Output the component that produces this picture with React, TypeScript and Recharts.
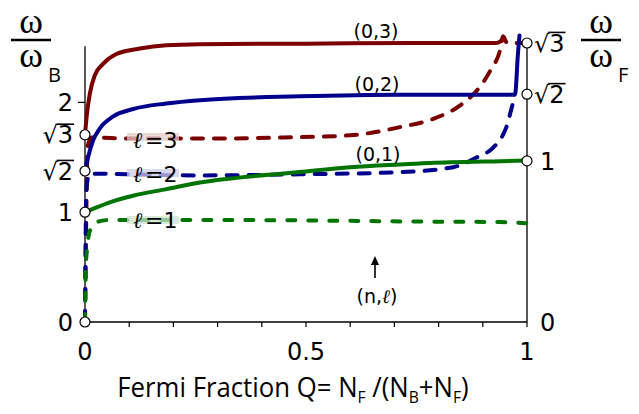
import React from 'react';
import { LineChart, Line, XAxis, YAxis, ReferenceDot, ReferenceLine } from 'recharts';

const W = 639;
const H = 414;
const RED = '#7a0000';
const BLUE = '#00008c';
const GREEN = '#007400';
const F_SCALE = 1.467; // omega_F measured in omega_B
const Y_MAX = 2.65;

const xTicks = [0, 0.1, 0.2, 0.3, 0.4, 0.5, 0.6, 0.7, 0.8, 0.9, 1];
const xTickLabels = ['0', '', '', '', '', '0.5', '', '', '', '', '1'];

const leftTicks = [0, 1, 1.375, 1.705, 2];
const leftTickLabels = ['0', '1', '√2', '√3', '2'];
const leftCircles = [0, 1, 1.375, 1.705];

const rightTicks = [0, 1, Math.SQRT2, Math.sqrt(3)];
const rightTickLabels = ['0', '1', '√2', '√3'];
const rightCircles = [1, Math.SQRT2, Math.sqrt(3)];

// (0,3) solid
const q03 = [0, 0.0045, 0.011, 0.022, 0.041, 0.071, 0.124, 0.184, 0.26, 0.5, 0.75, 0.93, 0.94, 0.946];
const w03 = [1.705, 1.9, 2.08, 2.245, 2.35, 2.44, 2.49, 2.52, 2.53, 2.535, 2.54, 2.54, 2.555, 2.6];
// l=3 dashed
const qL3 = [0, 0.003, 0.006, 0.015, 0.1, 0.26, 0.45, 0.6, 0.713, 0.788, 0.848, 0.887, 0.917, 0.94, 0.946, 0.955, 1];
const wL3 = [0, 1.0, 1.6, 1.68, 1.67, 1.67, 1.68, 1.7, 1.775, 1.85, 1.97, 2.11, 2.29, 2.49, 2.6, 2.54, 2.54];
// (0,2) solid
const q02 = [0, 0.007, 0.018, 0.033, 0.063, 0.109, 0.184, 0.26, 0.486, 0.713, 0.973, 0.976, 0.978, 0.983];
const w02 = [1.375, 1.5, 1.65, 1.76, 1.87, 1.94, 1.99, 2.02, 2.055, 2.07, 2.07, 2.2, 2.35, 2.61];
// l=2 dashed
const qL2 = [0, 0.003, 0.01, 0.26, 0.486, 0.713, 0.833, 0.887, 0.924, 0.947, 0.956, 0.964, 0.97, 0.974];
const wL2 = [0, 1.2, 1.35, 1.335, 1.345, 1.365, 1.41, 1.5, 1.59, 1.715, 1.806, 1.93, 2.02, 2.07];
// (0,1) solid
const q01 = [0, 0.018, 0.056, 0.109, 0.184, 0.26, 0.486, 0.6, 0.713, 0.826, 0.94, 1];
const w01 = [1.0, 1.03, 1.09, 1.15, 1.21, 1.27, 1.365, 1.41, 1.435, 1.455, 1.465, 1.47];
// l=1 dashed
const qL1 = [0, 0.002, 0.005, 0.011, 0.025, 0.06, 0.26, 0.5, 0.75, 0.94, 1];
const wL1 = [0, 0.5, 0.68, 0.83, 0.91, 0.93, 0.93, 0.925, 0.915, 0.91, 0.9];

const toRows = (qs: number[], ws: number[]) => qs.map((q, i) => ({ q, w: ws[i] }));

const series = [
  { key: 'l3', data: toRows(qL3, wL3), color: RED, dash: '11 11' },
  { key: 'l2', data: toRows(qL2, wL2), color: BLUE, dash: '11 11' },
  { key: 'l1', data: toRows(qL1, wL1), color: GREEN, dash: '8 13' },
  { key: '03', data: toRows(q03, w03), color: RED, dash: undefined },
  { key: '02', data: toRows(q02, w02), color: BLUE, dash: undefined },
  { key: '01', data: toRows(q01, w01), color: GREEN, dash: undefined },
];

const NUM_FONT = '"DejaVu Sans", sans-serif';

function TickText({ x, y, label, anchor }: { x: number; y: number; label: string; anchor: 'start' | 'end' }) {
  const fs = 24;
  const base = y + fs * 0.36;
  if (!label.startsWith('√')) {
    return (
      <text x={x} y={base} textAnchor={anchor} fontSize={fs} fontFamily={NUM_FONT} fill="#000">{label}</text>
    );
  }
  const dw = fs * 0.636;
  const x0 = anchor === 'end' ? x - dw : x + fs * 0.636;
  return (
    <g>
      <text x={x} y={base} textAnchor={anchor} fontSize={fs} fontFamily={NUM_FONT} fill="#000">{label}</text>
      <line x1={x0 - 1} x2={x0 + dw + 1} y1={base - fs * 0.8} y2={base - fs * 0.8} stroke="#000" strokeWidth={1.6} />
    </g>
  );
}

function LeftTick(props: any) {
  const { x, y, payload } = props;
  const label = leftTickLabels[leftTicks.indexOf(payload.value)];
  return (
    <g>
      {payload.value === 2 && <line x1={x - 7} x2={x} y1={y} y2={y} stroke="#000" strokeWidth={1.2} />}
      <TickText x={x - 12} y={y} label={label} anchor="end" />
    </g>
  );
}

function RightTick(props: any) {
  const { x, y, payload } = props;
  const label = rightTickLabels[rightTicks.indexOf(payload.value)];
  return <TickText x={x + (label.startsWith('√') ? 7 : 13)} y={y} label={label} anchor="start" />;
}

function XTick(props: any) {
  const { x, y, payload } = props;
  const label = xTickLabels[xTicks.indexOf(payload.value)];
  if (!label) return null;
  return (
    <text x={x} y={y + 31} textAnchor="middle" fontSize={24} fontFamily={NUM_FONT} fill="#000">{label}</text>
  );
}

// stacked ω/ω_X fraction, kept as one text element
function OmegaLabel({ cx, sub }: { cx: number; sub: string }) {
  return (
    <g>
      <text textAnchor="middle" fontSize={36} fontFamily='"Liberation Serif", serif' fill="#000">
        <tspan x={cx} y={33}>ω</tspan>
        <tspan x={cx} y={67}>ω</tspan>
        <tspan x={cx + 17} y={82} textAnchor="start" fontSize={20} fontFamily='"Open Sans", sans-serif'>{sub}</tspan>
      </text>
      <line x1={cx - 20} x2={cx + 20} y1={40} y2={40} stroke="#000" strokeWidth={2.6} />
    </g>
  );
}

function ElLabel({ y, line, n, tint }: { y: number; line: number; n: string; tint: string }) {
  return (
    <g>
      <rect x={127} y={line - 4} width={52} height={8} fill="#fff" opacity={0.7} />
      <rect x={127} y={line - 4} width={52} height={8} fill={tint} opacity={0.15} />
      <text x={133} y={y} fontSize={22} fontFamily='"DejaVu Serif", serif' fontStyle="italic" fill="#000">ℓ</text>
      <text x={145} y={y} fontSize={22} fontFamily={NUM_FONT} fill="#000">={n}</text>
    </g>
  );
}

function Overlay() {
  const small = { fontSize: 19, fontFamily: NUM_FONT, textAnchor: 'middle' as const, fill: '#000' };
  return (
    <svg width={W} height={H} style={{ position: 'absolute', left: 0, top: 0, pointerEvents: 'none' }}>
      <OmegaLabel cx={31} sub="B" />
      <OmegaLabel cx={601} sub="F" />
      <text x={376} y={38} {...small}>(0,3)</text>
      <text x={377} y={91} {...small}>(0,2)</text>
      <text x={378} y={161} {...small}>(0,1)</text>
      <ElLabel y={148} line={137} n="3" tint={RED} />
      <ElLabel y={182} line={173} n="2" tint={BLUE} />
      <ElLabel y={228} line={220} n="1" tint={GREEN} />
      <line x1={375} x2={375} y1={278} y2={262} stroke="#000" strokeWidth={1.6} />
      <polygon points="375,256 371,265 379,265" fill="#000" />
      <text x={377} y={303} {...small}>
        (n,<tspan fontFamily='"DejaVu Serif", serif' fontStyle="italic">ℓ</tspan>)
      </text>
      <g transform="translate(293,0) scale(0.92,1) translate(-293,0)">
        <text x={293} y={397} textAnchor="middle" fontSize={28} fontFamily='"Open Sans", sans-serif' fill="#000">
          Fermi Fraction  Q= N<tspan dy={6} fontSize={17}>F</tspan>
          <tspan dy={-6}> /(N</tspan><tspan dy={6} fontSize={17}>B</tspan>
          <tspan dy={-6}>+N</tspan><tspan dy={6} fontSize={17}>F</tspan><tspan dy={-6}>)</tspan>
        </text>
      </g>
    </svg>
  );
}

export default function App() {
  return (
    <div style={{ position: 'absolute', left: 0, top: 0, width: W, height: H, background: '#fff' }}>
      <LineChart width={W} height={H} margin={{ top: 31, right: 0, bottom: 0, left: 0 }}>
        <XAxis
          dataKey="q"
          type="number"
          domain={[0, 1]}
          ticks={xTicks}
          interval={0}
          height={92}
          tickSize={5}
          axisLine={{ stroke: '#000', strokeWidth: 1.3 }}
          tickLine={{ stroke: '#000', strokeWidth: 1.2 }}
          tick={<XTick />}
        />
        <YAxis
          yAxisId="left"
          type="number"
          domain={[0, Y_MAX]}
          ticks={leftTicks}
          interval={0}
          width={85}
          axisLine={false}
          tickLine={false}
          tickSize={0}
          tickMargin={0}
          tick={<LeftTick />}
          allowDataOverflow
        />
        <YAxis
          yAxisId="right"
          orientation="right"
          type="number"
          domain={[0, Y_MAX / F_SCALE]}
          ticks={rightTicks}
          interval={0}
          width={112}
          axisLine={false}
          tickLine={false}
          tickSize={0}
          tickMargin={0}
          tick={<RightTick />}
          allowDataOverflow
        />
        <ReferenceLine yAxisId="left" segment={[{ x: 0, y: 0 }, { x: 0, y: 2.51 }]} stroke="#000" strokeWidth={1.3} />
        <ReferenceLine yAxisId="left" segment={[{ x: 1, y: 0 }, { x: 1, y: Math.sqrt(3) * F_SCALE }]} stroke="#000" strokeWidth={1.3} />
        {series.map((s) => (
          <Line
            key={s.key}
            data={s.data}
            dataKey="w"
            yAxisId="left"
            type="monotone"
            stroke={s.color}
            strokeWidth={4}
            strokeDasharray={s.dash}
            strokeLinecap="round"
            dot={false}
            activeDot={false}
            isAnimationActive={false}
          />
        ))}
        {leftCircles.map((v) => (
          <ReferenceDot key={'l' + v} yAxisId="left" x={0} y={v} r={5} fill="#fff" stroke="#000" strokeWidth={1.2} />
        ))}
        {rightCircles.map((v) => (
          <ReferenceDot key={'r' + v} yAxisId="right" x={1} y={v} r={5} fill="#fff" stroke="#000" strokeWidth={1.2} />
        ))}
      </LineChart>
      <Overlay />
    </div>
  );
}
